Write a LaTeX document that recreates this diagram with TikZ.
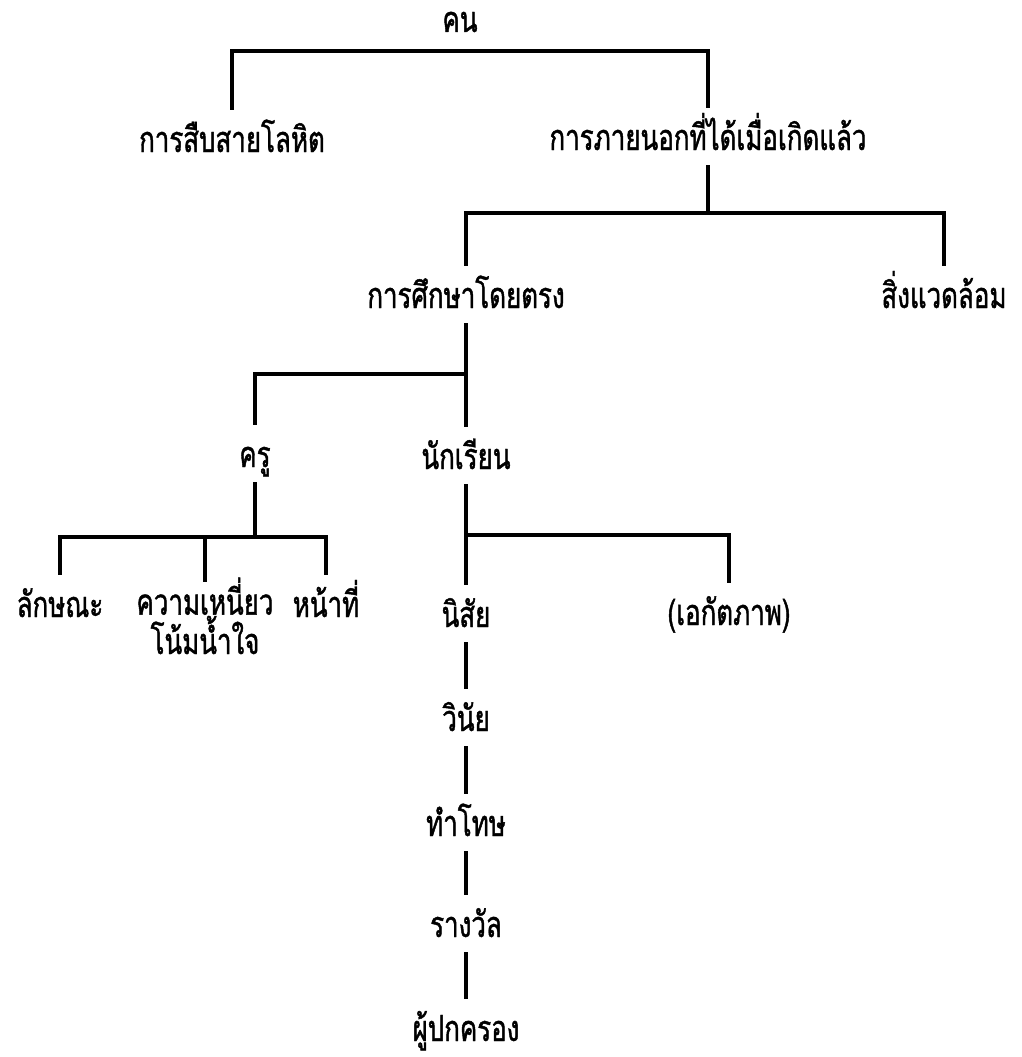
\documentclass[tikz,border=0pt]{standalone}
\usepackage{fontspec}
\newfontfamily\thaifont[Script=Thai,FakeStretch=0.72,FakeBold=1.2]{Loma}

\tikzset{
  lbl/.style={font=\thaifont\fontsize{36}{37}\selectfont, anchor=base,
    text height=34pt, text depth=7pt, inner xsep=0pt, inner ysep=8pt},
  link/.style={line width=3.4pt},
}

\begin{document}
\begin{tikzpicture}[x=1pt, y=-1pt]
  \useasboundingbox (0,0) rectangle (1022,1057);

  % Upper levels
  \node[lbl] (k) at (460,32) {คน};
  \node[lbl] (s) at (232,152) {การสืบสายโลหิต};
  \node[lbl] (p) at (708,150) {การภายนอกที่ได้เมื่อเกิดแล้ว};
  \node[lbl] (d) at (466,308) {การศึกษาโดยตรง};
  \node[lbl] (w) at (944,308) {สิ่งแวดล้อม};

  % Teacher and student
  \node[lbl] (c) at (255,467) {ครู};
  \node[lbl] (n) at (466,469) {นักเรียน};
  \node[lbl] (l) at (60,617) {ลักษณะ};
  \node[lbl, align=center, text height=64pt] (m) at (205,654) {ความเหนี่ยว\\โน้มน้ำใจ};
  \node[lbl] (h) at (326,617) {หน้าที่};
  \node[lbl] (ni) at (466,627) {นิสัย};
  \node[lbl] (e) at (729,625) {(เอกัตภาพ)};

  % Chain below
  \node[lbl] (v) at (466,731) {วินัย};
  \node[lbl] (t) at (466,836) {ทำโทษ};
  \node[lbl] (r) at (466,937) {รางวัล};
  \node[lbl] (g) at (466,1041) {ผู้ปกครอง};

  % Junctions
  \coordinate (kj) at (460,51);
  \coordinate (pj) at (708,213);
  \coordinate (dj) at (466,374);
  \coordinate (cj) at (255,537);
  \coordinate (nj) at (466,535);

  \draw[link] (s.north) |- (kj) -| (p.north);
  \draw[link] (p.south) -- (pj);
  \draw[link] (d.north) |- (pj) -| (w.north);
  \draw[link] (d) -- (n);
  \draw[link] (c.north) |- (dj);
  \draw[link] (c.south) -- (cj);
  \draw[link] (l.north) |- (cj) -| (h.north);
  \draw[link] (cj) -| (m.north);
  \draw[link] (n) -- (ni);
  \draw[link] (nj) -| (e.north);
  \draw[link] (ni) -- (v);
  \draw[link] (v) -- (t);
  \draw[link] (t) -- (r);
  \draw[link] (r) -- (g);
\end{tikzpicture}
\end{document}
